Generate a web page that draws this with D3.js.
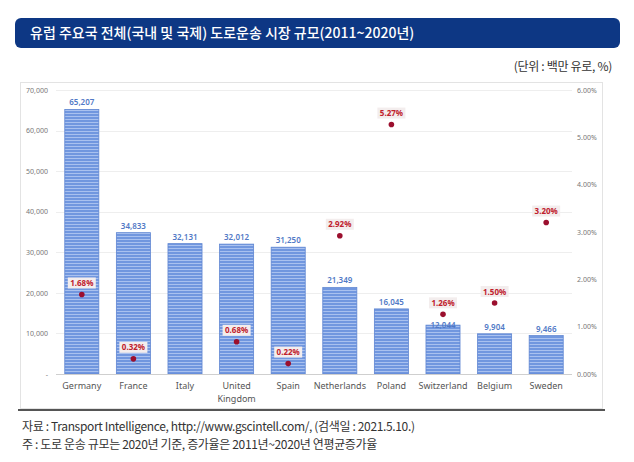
<!DOCTYPE html>
<html>
<head>
<meta charset="utf-8">
<script src="https://cdn.jsdelivr.net/npm/d3@7"></script>
<style>
  body { margin: 0; background: #fff; }
  text { font-family: "Noto Sans CJK KR", "Noto Sans", sans-serif; }
</style>
</head>
<body>
<script>
var countries = ["Germany", "France", "Italy", "United Kingdom", "Spain",
  "Netherlands", "Poland", "Switzerland", "Belgium", "Sweden"];
var marketSize = [65207, 34833, 32131, 32012, 31250, 21349, 16045, 12044, 9904, 9466];
var growthRate = [1.68, 0.32, null, 0.68, 0.22, 2.92, 5.27, 1.26, 1.50, 3.20];
var leftTicks = [0, 10000, 20000, 30000, 40000, 50000, 60000, 70000];
var rightTicks = [0, 1, 2, 3, 4, 5, 6];

var width = 634, height = 462;

var svg = d3.select("body").append("svg")
  .attr("width", width)
  .attr("height", height);

// striped bar fill
var defs = svg.append("defs");
var pat = defs.append("pattern")
  .attr("id", "stripes")
  .attr("patternUnits", "userSpaceOnUse")
  .attr("width", 6)
  .attr("height", 3);
pat.append("rect").attr("width", 6).attr("height", 3).attr("fill", "#7197df");
pat.append("rect").attr("y", 2).attr("width", 6).attr("height", 1).attr("fill", "#a9c1ef");

// title bar
svg.append("rect")
  .attr("x", 15).attr("y", 18)
  .attr("width", 605).attr("height", 30)
  .attr("rx", 6)
  .attr("fill", "#0d3784");
svg.append("text")
  .attr("x", 30).attr("y", 38)
  .attr("fill", "#fff")
  .attr("font-size", 14)
  .attr("font-weight", 500)
  .text("유럽 주요국 전체(국내 및 국제) 도로운송 시장 규모(2011~2020년)");

svg.append("text")
  .attr("x", 612).attr("y", 71)
  .attr("text-anchor", "end")
  .attr("fill", "#333")
  .attr("font-size", 12)
  .attr("letter-spacing", -0.3)
  .text("(단위 : 백만 유로, %)");

// chart frame
svg.append("rect")
  .attr("x", 20.5).attr("y", 82.5)
  .attr("width", 582).attr("height", 326)
  .attr("fill", "none")
  .attr("stroke", "#e3e3e3");
svg.append("line")
  .attr("x1", 18).attr("x2", 605)
  .attr("y1", 410).attr("y2", 410)
  .attr("stroke", "#555")
  .attr("stroke-width", 2.2);

var x = d3.scaleBand()
  .domain(countries)
  .range([56, 572])
  .paddingInner(0.34)
  .paddingOuter(0.17);

var y = d3.scaleLinear().domain([0, 70000]).range([374, 90]);
var y2 = d3.scaleLinear().domain([0, 6]).range([374, 90]);

// gridlines
svg.append("g")
  .selectAll("line")
  .data(leftTicks.slice(1))
  .join("line")
  .attr("x1", 56).attr("x2", 572)
  .attr("y1", function(d) { return Math.round(y(d)) + 0.5; })
  .attr("y2", function(d) { return Math.round(y(d)) + 0.5; })
  .attr("stroke", "#eeeeee");

// left axis
var leftAxis = d3.axisLeft(y)
  .tickValues(leftTicks)
  .tickSize(0)
  .tickPadding(0)
  .tickFormat(function(d) { return d === 0 ? "-" : d3.format(",")(d); });
var gl = svg.append("g").attr("transform", "translate(48,0)").call(leftAxis);
gl.select(".domain").remove();
gl.selectAll("text")
  .attr("fill", "#777")
  .attr("font-size", 7)
  .style("font-family", "'Noto Sans', sans-serif");

// right axis
var rightAxis = d3.axisRight(y2)
  .tickValues(rightTicks)
  .tickSize(0)
  .tickPadding(0)
  .tickFormat(function(d) { return d3.format(".2f")(d) + "%"; });
var gr = svg.append("g").attr("transform", "translate(577,0)").call(rightAxis);
gr.select(".domain").remove();
gr.selectAll("text")
  .attr("fill", "#777")
  .attr("font-size", 7)
  .style("font-family", "'Noto Sans', sans-serif");

// bars
svg.append("g")
  .selectAll("rect")
  .data(countries)
  .join("rect")
  .attr("x", function(d) { return x(d); })
  .attr("y", function(d, i) { return y(marketSize[i]); })
  .attr("width", x.bandwidth())
  .attr("height", function(d, i) { return y(0) - y(marketSize[i]); })
  .attr("fill", "url(#stripes)")
  .attr("stroke", "#5f86d2")
  .attr("stroke-width", 0.8);

// baseline
svg.append("line")
  .attr("x1", 56).attr("x2", 572)
  .attr("y1", 374.5).attr("y2", 374.5)
  .attr("stroke", "#cfcfcf");

// bar value labels; pushed inside the bar if the growth point sits on top
function valueLabelY(i) {
  var top = y(marketSize[i]);
  var ly = top - 4;
  if (growthRate[i] !== null && Math.abs(y2(growthRate[i]) - ly) < 10) ly = top + 3;
  return ly;
}
svg.append("g")
  .selectAll("text")
  .data(countries)
  .join("text")
  .attr("x", function(d) { return x(d) + x.bandwidth() / 2; })
  .attr("y", function(d, i) { return valueLabelY(i); })
  .attr("text-anchor", "middle")
  .attr("fill", "#5179c6")
  .attr("font-size", 8)
  .attr("font-weight", 600)
  .style("font-family", "'Noto Sans', sans-serif")
  .text(function(d, i) { return d3.format(",")(marketSize[i]); });

// category labels
var cat = svg.append("g")
  .selectAll("text")
  .data(countries)
  .join("text")
  .attr("x", function(d) { return x(d) + x.bandwidth() / 2; })
  .attr("y", 389)
  .attr("text-anchor", "middle")
  .attr("fill", "#555")
  .attr("font-size", 9)
  .style("font-family", "'Noto Sans', sans-serif");
cat.each(function(d) {
  var parts = d === "United Kingdom" ? ["United", "Kingdom"] : [d];
  var t = d3.select(this);
  parts.forEach(function(p, k) {
    t.append("tspan")
      .attr("x", x(d) + x.bandwidth() / 2)
      .attr("dy", k === 0 ? 0 : 13)
      .text(p);
  });
});

// growth rate points
var pts = countries.map(function(d, i) { return { c: d, v: growthRate[i] }; })
  .filter(function(p) { return p.v !== null; });

var pg = svg.append("g").selectAll("g")
  .data(pts)
  .join("g")
  .attr("transform", function(p) {
    return "translate(" + (x(p.c) + x.bandwidth() / 2) + "," + y2(p.v) + ")";
  });

pg.append("rect")
  .attr("x", -14).attr("y", -17)
  .attr("width", 28).attr("height", 11)
  .attr("fill", "#f3eded");
pg.append("text")
  .attr("y", -8.5)
  .attr("text-anchor", "middle")
  .attr("fill", "#c0202c")
  .attr("font-size", 8)
  .attr("font-weight", 700)
  .style("font-family", "'Noto Sans', sans-serif")
  .text(function(p) { return d3.format(".2f")(p.v) + "%"; });
pg.append("circle")
  .attr("r", 2.8)
  .attr("fill", "#9b0f2e");

// footnotes
svg.append("text")
  .attr("x", 22).attr("y", 431)
  .attr("fill", "#333")
  .attr("font-size", 12)
  .attr("letter-spacing", -0.35)
  .text("자료 : Transport Intelligence, http://www.gscintell.com/, (검색일 : 2021.5.10.)");
svg.append("text")
  .attr("x", 22).attr("y", 449)
  .attr("fill", "#333")
  .attr("font-size", 12)
  .attr("letter-spacing", -0.35)
  .text("주 : 도로 운송 규모는 2020년 기준, 증가율은 2011년~2020년 연평균증가율");
</script>
</body>
</html>
